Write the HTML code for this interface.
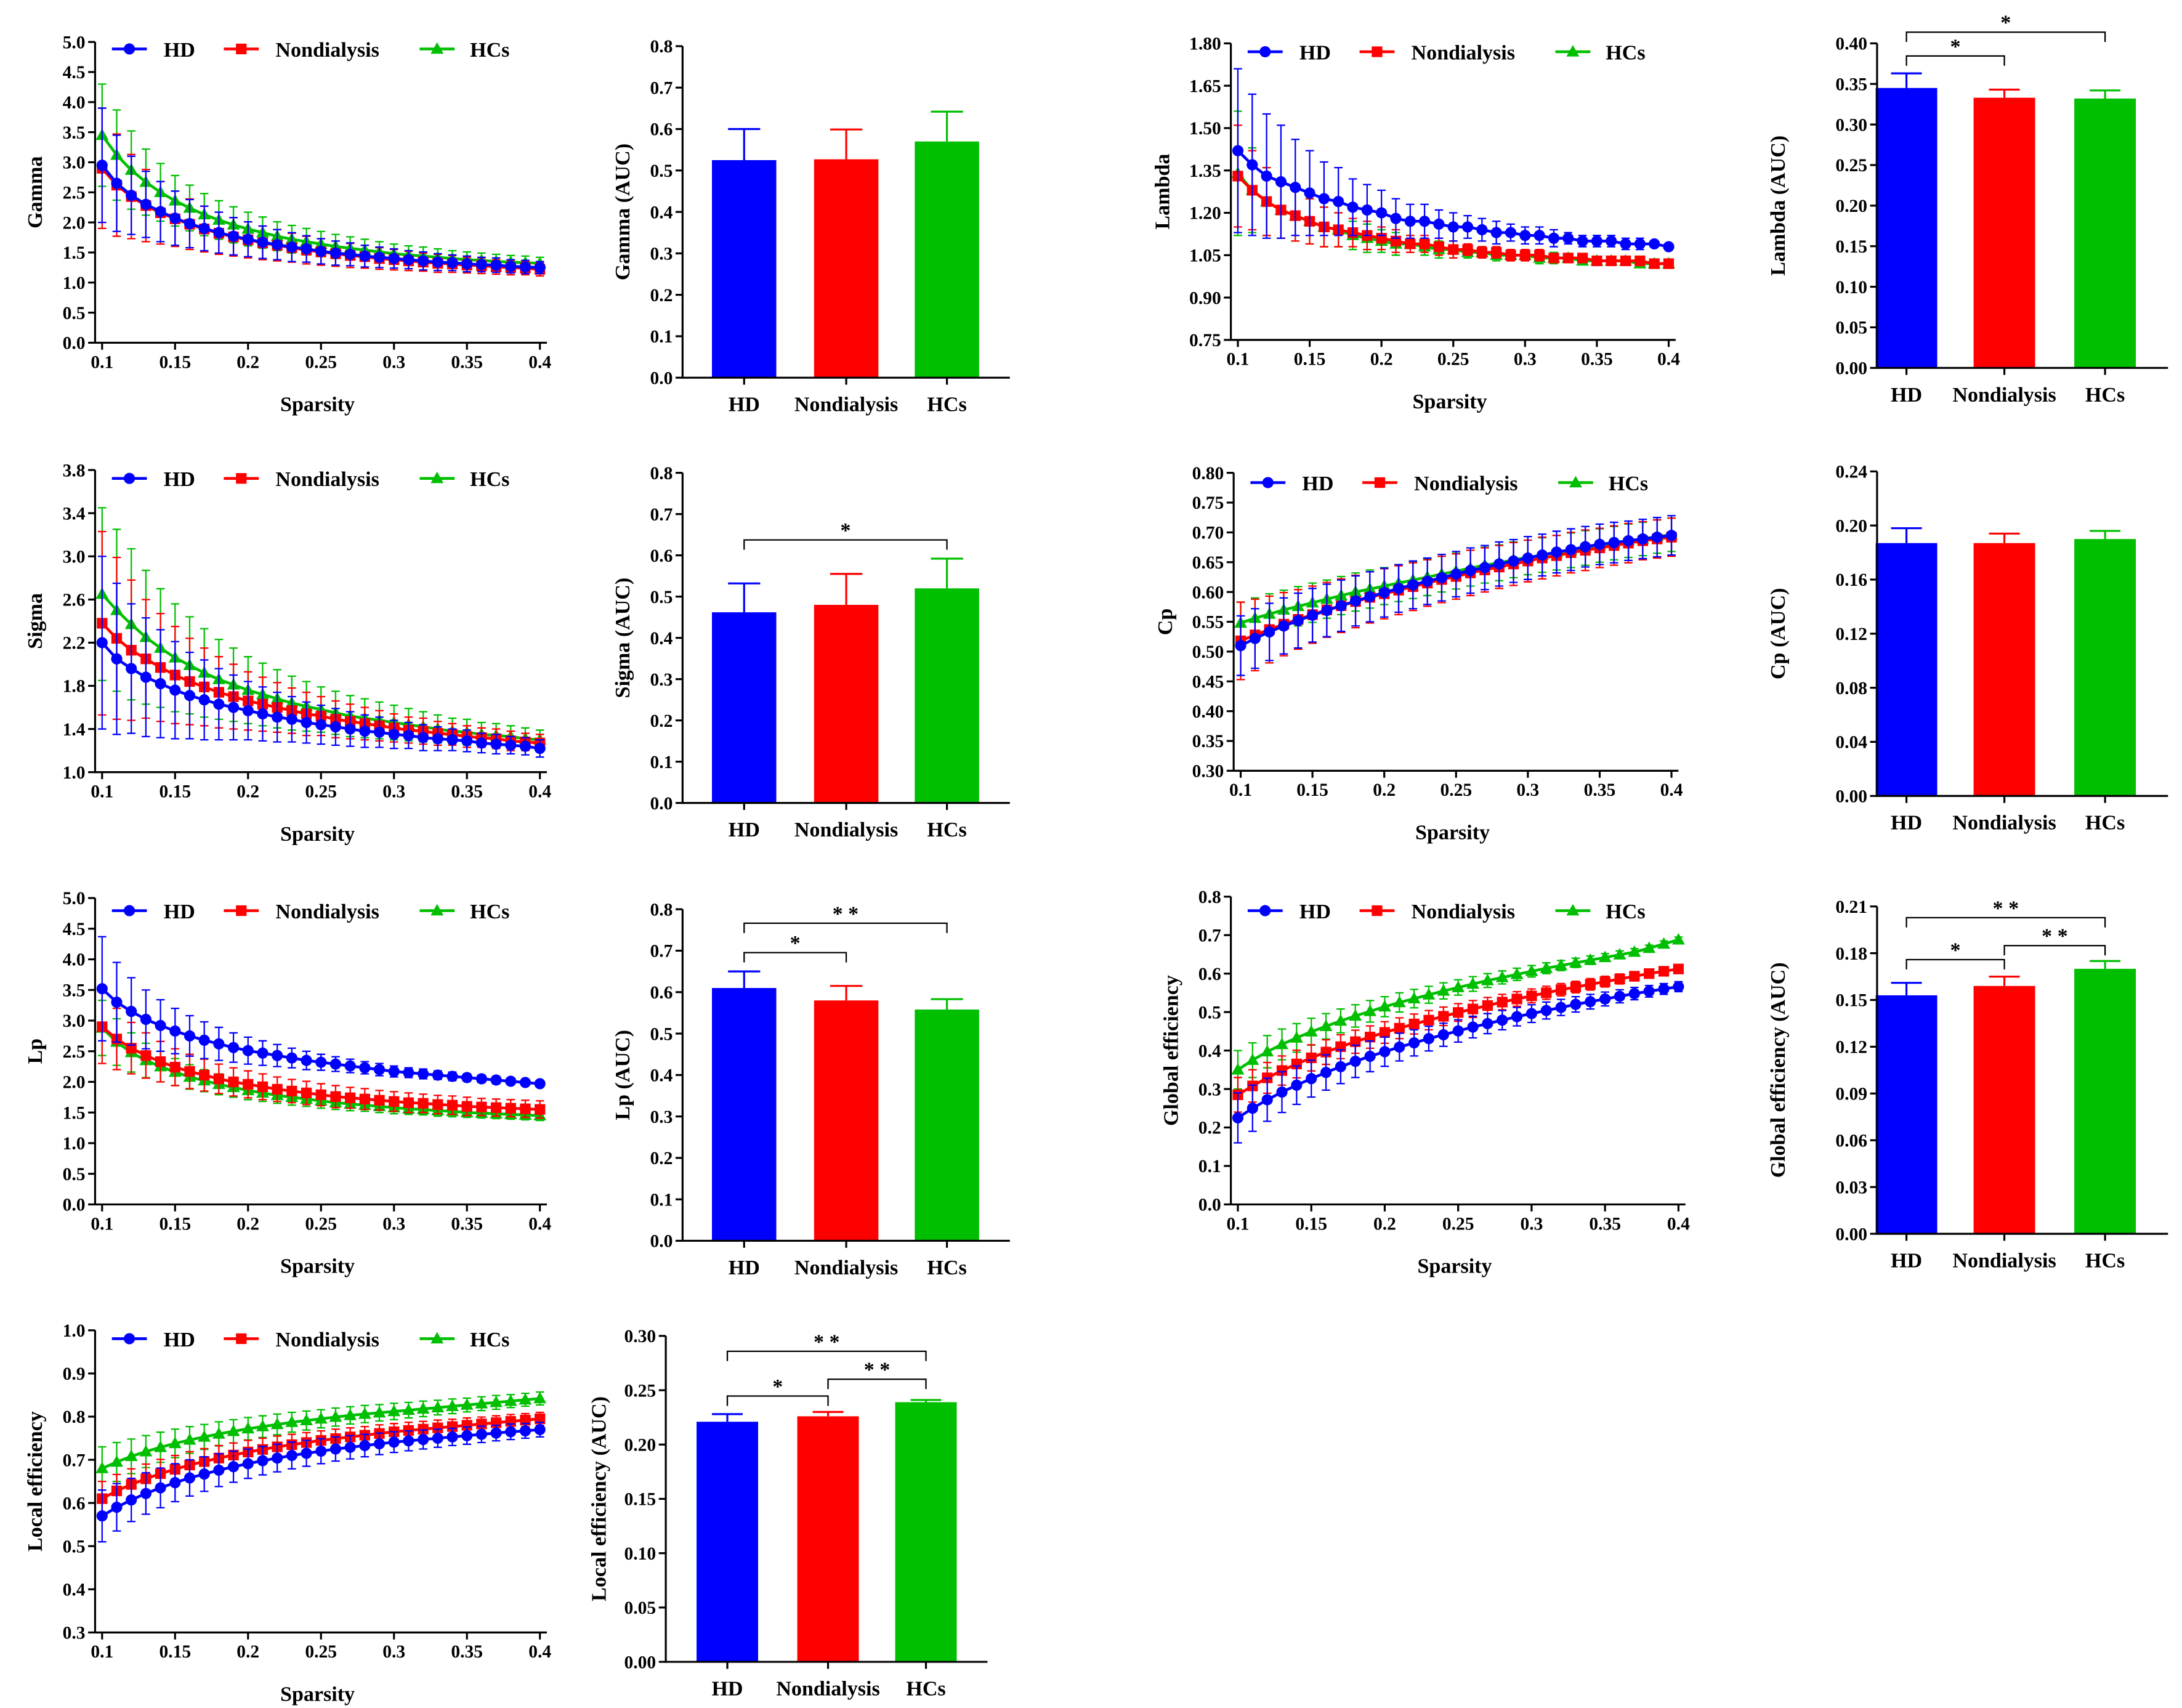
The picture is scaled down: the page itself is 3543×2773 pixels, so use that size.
<!DOCTYPE html>
<html><head><meta charset="utf-8"><style>
html,body{margin:0;padding:0;background:#fff;}
svg{display:block;}
text{font-family:"Liberation Serif",serif;font-weight:bold;fill:#000;}
</style></head>
<body>
<svg id="fig" width="3543" height="2773" viewBox="0 0 1560 1221" preserveAspectRatio="none" xmlns="http://www.w3.org/2000/svg"></svg>
<script>
const sparsity=[0.1,0.11,0.12,0.13,0.14,0.15,0.16,0.17,0.18,0.19,0.2,0.21,0.22,0.23,0.24,0.25,0.26,0.27,0.28,0.29,0.3,0.31,0.32,0.33,0.34,0.35,0.36,0.37,0.38,0.39,0.4];
const xTickVals=[0.1,0.15,0.2,0.25,0.3,0.35,0.4];
const xTickLabels=["0.1","0.15","0.2","0.25","0.3","0.35","0.4"];
const groups=["HD","Nondialysis","HCs"];

const gammaHD=[2.95,2.65,2.45,2.3,2.18,2.07,1.98,1.9,1.83,1.77,1.72,1.67,1.63,1.59,1.56,1.52,1.49,1.47,1.44,1.42,1.40,1.38,1.36,1.34,1.33,1.31,1.30,1.29,1.27,1.26,1.25];
const gammaNon=[2.9,2.62,2.43,2.28,2.16,2.06,1.97,1.89,1.82,1.76,1.71,1.66,1.62,1.58,1.54,1.51,1.48,1.45,1.43,1.40,1.38,1.36,1.34,1.32,1.31,1.29,1.28,1.26,1.25,1.24,1.22];
const gammaHC=[3.45,3.12,2.87,2.67,2.5,2.36,2.24,2.13,2.04,1.96,1.89,1.83,1.77,1.72,1.68,1.64,1.60,1.57,1.54,1.51,1.48,1.46,1.44,1.42,1.40,1.38,1.37,1.35,1.34,1.33,1.32];
const gammaSdHD=[0.95,0.8,0.65,0.55,0.5,0.45,0.4,0.37,0.34,0.31,0.29,0.27,0.25,0.24,0.22,0.21,0.2,0.19,0.18,0.17,0.16,0.15,0.15,0.14,0.13,0.13,0.12,0.12,0.11,0.11,0.1];
const gammaSdNon=[1.0,0.85,0.7,0.6,0.52,0.46,0.42,0.38,0.35,0.32,0.3,0.28,0.26,0.24,0.23,0.22,0.21,0.2,0.19,0.18,0.17,0.16,0.15,0.15,0.14,0.13,0.13,0.12,0.12,0.11,0.11];
const gammaSdHC=[0.85,0.75,0.65,0.55,0.48,0.42,0.38,0.35,0.32,0.3,0.28,0.26,0.24,0.23,0.22,0.21,0.2,0.19,0.18,0.17,0.16,0.15,0.15,0.14,0.13,0.13,0.12,0.12,0.11,0.11,0.1];

const lambdaHD=[1.42,1.37,1.33,1.31,1.29,1.27,1.25,1.24,1.22,1.21,1.20,1.18,1.17,1.17,1.16,1.15,1.15,1.14,1.13,1.13,1.12,1.12,1.11,1.11,1.10,1.10,1.10,1.09,1.09,1.09,1.08];
const lambdaNon=[1.33,1.28,1.24,1.21,1.19,1.17,1.15,1.14,1.13,1.12,1.11,1.10,1.09,1.09,1.08,1.07,1.07,1.06,1.06,1.05,1.05,1.05,1.04,1.04,1.04,1.03,1.03,1.03,1.03,1.02,1.02];
const lambdaHC=[1.34,1.28,1.24,1.21,1.19,1.17,1.15,1.14,1.12,1.11,1.10,1.09,1.09,1.08,1.07,1.07,1.06,1.06,1.05,1.05,1.05,1.04,1.04,1.04,1.03,1.03,1.03,1.03,1.02,1.02,1.02];
const lambdaSdHD=[0.29,0.25,0.22,0.2,0.17,0.15,0.13,0.12,0.1,0.09,0.08,0.07,0.06,0.06,0.05,0.05,0.04,0.04,0.04,0.03,0.03,0.03,0.03,0.02,0.02,0.02,0.02,0.02,0.02,0.01,0.01];
const lambdaSdNon=[0.18,0.14,0.12,0.1,0.09,0.08,0.07,0.06,0.05,0.05,0.04,0.04,0.03,0.03,0.03,0.03,0.02,0.02,0.02,0.02,0.02,0.02,0.01,0.01,0.01,0.01,0.01,0.01,0.01,0.01,0.01];
const lambdaSdHC=[0.22,0.15,0.12,0.1,0.09,0.08,0.07,0.06,0.05,0.05,0.04,0.04,0.03,0.03,0.03,0.03,0.02,0.02,0.02,0.02,0.02,0.02,0.02,0.01,0.01,0.01,0.01,0.01,0.01,0.01,0.01];

const sigmaHD=[2.2,2.05,1.96,1.88,1.82,1.76,1.71,1.67,1.63,1.6,1.57,1.54,1.51,1.49,1.46,1.44,1.42,1.4,1.38,1.37,1.35,1.34,1.32,1.31,1.3,1.29,1.27,1.26,1.25,1.24,1.22];
const sigmaNon=[2.38,2.24,2.13,2.05,1.97,1.9,1.84,1.79,1.74,1.7,1.66,1.63,1.6,1.57,1.54,1.52,1.49,1.47,1.45,1.43,1.41,1.39,1.38,1.36,1.35,1.33,1.32,1.31,1.29,1.28,1.27];
const sigmaHC=[2.65,2.5,2.37,2.25,2.15,2.06,1.99,1.92,1.86,1.81,1.76,1.72,1.68,1.64,1.61,1.58,1.55,1.52,1.5,1.48,1.46,1.44,1.42,1.4,1.38,1.37,1.35,1.34,1.33,1.31,1.3];
const sigmaSdHD=[0.8,0.7,0.6,0.55,0.5,0.45,0.4,0.37,0.33,0.3,0.27,0.25,0.23,0.21,0.19,0.18,0.17,0.16,0.15,0.14,0.13,0.12,0.12,0.11,0.1,0.1,0.09,0.09,0.08,0.08,0.08];
const sigmaSdNon=[0.85,0.75,0.65,0.55,0.5,0.45,0.4,0.36,0.33,0.3,0.27,0.25,0.23,0.21,0.2,0.18,0.17,0.16,0.15,0.14,0.13,0.12,0.12,0.11,0.1,0.1,0.09,0.09,0.09,0.08,0.08];
const sigmaSdHC=[0.8,0.75,0.7,0.62,0.55,0.5,0.45,0.41,0.37,0.34,0.31,0.29,0.27,0.25,0.23,0.21,0.2,0.19,0.18,0.17,0.16,0.15,0.14,0.13,0.12,0.12,0.11,0.11,0.1,0.1,0.09];

const cpHD=[0.51,0.522,0.533,0.543,0.552,0.561,0.569,0.577,0.585,0.592,0.599,0.606,0.612,0.618,0.624,0.63,0.636,0.641,0.647,0.652,0.657,0.662,0.667,0.671,0.676,0.68,0.683,0.686,0.689,0.692,0.695];
const cpNon=[0.518,0.528,0.537,0.546,0.554,0.562,0.57,0.577,0.584,0.591,0.597,0.603,0.609,0.615,0.621,0.626,0.632,0.637,0.642,0.647,0.652,0.657,0.661,0.666,0.67,0.674,0.678,0.682,0.686,0.689,0.692];
const cpHC=[0.548,0.556,0.563,0.57,0.576,0.582,0.588,0.594,0.6,0.605,0.61,0.615,0.62,0.625,0.63,0.635,0.64,0.645,0.649,0.654,0.658,0.662,0.666,0.67,0.674,0.678,0.682,0.686,0.689,0.693,0.696];
const cpSdHD=[0.05,0.05,0.048,0.047,0.046,0.045,0.044,0.043,0.042,0.042,0.041,0.04,0.04,0.039,0.039,0.038,0.038,0.037,0.037,0.036,0.036,0.035,0.035,0.035,0.034,0.034,0.034,0.033,0.033,0.033,0.033];
const cpSdNon=[0.065,0.06,0.056,0.053,0.05,0.048,0.046,0.045,0.044,0.043,0.042,0.041,0.04,0.039,0.039,0.038,0.038,0.037,0.036,0.036,0.035,0.035,0.034,0.034,0.034,0.033,0.033,0.033,0.032,0.032,0.032];
const cpSdHC=[0.035,0.034,0.034,0.033,0.033,0.033,0.032,0.032,0.032,0.032,0.031,0.031,0.031,0.031,0.03,0.03,0.03,0.03,0.03,0.03,0.029,0.029,0.029,0.029,0.029,0.028,0.028,0.028,0.028,0.028,0.028];

const lpHD=[3.52,3.3,3.15,3.02,2.92,2.83,2.75,2.68,2.62,2.56,2.51,2.47,2.43,2.39,2.35,2.32,2.29,2.26,2.23,2.2,2.17,2.15,2.13,2.11,2.09,2.07,2.05,2.03,2.01,1.99,1.97];
const lpNon=[2.9,2.7,2.55,2.43,2.33,2.24,2.17,2.11,2.05,2.0,1.96,1.92,1.88,1.85,1.82,1.79,1.76,1.74,1.72,1.7,1.68,1.66,1.65,1.63,1.62,1.6,1.59,1.58,1.57,1.56,1.55];
const lpHC=[2.88,2.65,2.48,2.35,2.25,2.16,2.08,2.02,1.96,1.91,1.86,1.82,1.78,1.75,1.72,1.69,1.66,1.64,1.62,1.6,1.58,1.56,1.55,1.53,1.52,1.5,1.49,1.48,1.47,1.46,1.45];
const lpSdHD=[0.85,0.65,0.55,0.48,0.42,0.37,0.33,0.3,0.27,0.24,0.22,0.2,0.18,0.16,0.15,0.13,0.12,0.11,0.1,0.1,0.09,0.08,0.08,0.07,0.07,0.06,0.06,0.06,0.05,0.05,0.05];
const lpSdNon=[0.6,0.5,0.42,0.37,0.33,0.3,0.28,0.26,0.24,0.23,0.22,0.21,0.2,0.19,0.19,0.18,0.18,0.17,0.17,0.16,0.16,0.16,0.15,0.15,0.15,0.15,0.14,0.14,0.14,0.14,0.14];
const lpSdHC=[0.45,0.38,0.32,0.28,0.25,0.22,0.2,0.18,0.17,0.16,0.15,0.14,0.13,0.13,0.12,0.12,0.11,0.11,0.1,0.1,0.1,0.09,0.09,0.09,0.09,0.08,0.08,0.08,0.08,0.08,0.08];

const geHD=[0.225,0.25,0.272,0.292,0.31,0.327,0.343,0.358,0.372,0.385,0.397,0.409,0.42,0.431,0.441,0.451,0.461,0.47,0.479,0.488,0.496,0.504,0.512,0.52,0.527,0.534,0.541,0.548,0.554,0.56,0.566];
const geNon=[0.285,0.308,0.329,0.348,0.365,0.381,0.396,0.41,0.423,0.435,0.447,0.458,0.469,0.479,0.489,0.499,0.508,0.517,0.526,0.534,0.542,0.55,0.558,0.565,0.572,0.579,0.586,0.593,0.6,0.606,0.612];
const geHC=[0.35,0.375,0.397,0.416,0.433,0.449,0.463,0.477,0.49,0.502,0.514,0.525,0.535,0.545,0.555,0.564,0.573,0.582,0.59,0.598,0.606,0.614,0.621,0.628,0.635,0.642,0.649,0.656,0.666,0.677,0.688];
const geSdHD=[0.065,0.06,0.056,0.053,0.05,0.048,0.046,0.044,0.042,0.04,0.038,0.036,0.034,0.032,0.03,0.029,0.028,0.026,0.025,0.024,0.023,0.022,0.021,0.02,0.019,0.018,0.017,0.016,0.015,0.014,0.013];
const geSdNon=[0.045,0.042,0.04,0.038,0.036,0.034,0.032,0.031,0.03,0.029,0.028,0.027,0.026,0.025,0.024,0.023,0.022,0.021,0.02,0.019,0.018,0.017,0.016,0.015,0.015,0.014,0.013,0.012,0.011,0.01,0.01];
const geSdHC=[0.05,0.045,0.042,0.04,0.037,0.035,0.033,0.031,0.029,0.028,0.026,0.025,0.024,0.022,0.021,0.02,0.019,0.018,0.017,0.016,0.015,0.014,0.013,0.012,0.011,0.01,0.01,0.009,0.008,0.008,0.007];

const leHD=[0.57,0.59,0.607,0.622,0.635,0.647,0.658,0.667,0.676,0.684,0.691,0.698,0.704,0.71,0.715,0.72,0.725,0.729,0.733,0.737,0.741,0.744,0.747,0.75,0.753,0.756,0.759,0.762,0.765,0.767,0.77];
const leNon=[0.61,0.628,0.643,0.656,0.668,0.678,0.688,0.696,0.704,0.711,0.718,0.724,0.73,0.735,0.74,0.745,0.749,0.753,0.757,0.761,0.765,0.768,0.771,0.774,0.777,0.78,0.783,0.786,0.789,0.792,0.795];
const leHC=[0.68,0.695,0.708,0.719,0.729,0.738,0.746,0.753,0.76,0.766,0.772,0.777,0.782,0.787,0.791,0.795,0.799,0.803,0.806,0.809,0.812,0.815,0.818,0.821,0.824,0.827,0.83,0.833,0.836,0.839,0.842];
const leSdHD=[0.06,0.055,0.05,0.048,0.046,0.044,0.042,0.04,0.038,0.036,0.034,0.033,0.032,0.031,0.03,0.029,0.028,0.027,0.026,0.025,0.024,0.023,0.022,0.021,0.02,0.02,0.019,0.018,0.018,0.017,0.017];
const leSdNon=[0.04,0.038,0.036,0.034,0.033,0.032,0.031,0.03,0.029,0.028,0.027,0.026,0.025,0.024,0.023,0.022,0.022,0.021,0.02,0.02,0.019,0.019,0.018,0.018,0.017,0.017,0.016,0.016,0.016,0.015,0.015];
const leSdHC=[0.05,0.045,0.04,0.037,0.035,0.033,0.031,0.029,0.028,0.027,0.026,0.025,0.024,0.023,0.022,0.021,0.021,0.02,0.02,0.019,0.019,0.018,0.018,0.017,0.017,0.016,0.016,0.016,0.015,0.015,0.015];

const gammaAuc=[0.525,0.527,0.57], gammaAucSd=[0.075,0.072,0.072];
const lambdaAuc=[0.345,0.333,0.332], lambdaAucSd=[0.018,0.01,0.01];
const sigmaAuc=[0.462,0.48,0.52], sigmaAucSd=[0.07,0.075,0.072];
const cpAuc=[0.187,0.187,0.19], cpAucSd=[0.011,0.007,0.006];
const lpAuc=[0.61,0.58,0.558], lpAucSd=[0.04,0.035,0.025];
const geAuc=[0.153,0.159,0.17], geAucSd=[0.008,0.006,0.005];
const leAuc=[0.221,0.226,0.239], leAucSd=[0.007,0.004,0.002];

const COLORS=["#0000ff","#ff0000","#00bf00"];
const NS="http://www.w3.org/2000/svg";
const svg=document.getElementById("fig");
function el(tag,attrs,parent,txt){const e=document.createElementNS(NS,tag);for(const k in attrs)e.setAttribute(k,attrs[k]);if(txt!==undefined)e.textContent=txt;(parent||svg).appendChild(e);return e;}
function marker(g,kind,x,y,c){
  let m;
  if(kind===0){m=el("circle",{cx:x,cy:y,r:4,fill:c},g);}
  else if(kind===1){m=el("rect",{x:x-3.8,y:y-3.8,width:7.6,height:7.6,fill:c},g);}
  else{m=el("polygon",{points:`${x},${y-4.8} ${x-4.6},${y+3.4} ${x+4.6},${y+3.4}`,fill:c},g);}
  return m;
}
function fmt(v,d){return v.toFixed(d);}

function lineChart(o){
  const g=el("g",{});
  
  
  const sx=v=>o.xa+(v-0.1)/(0.3)*(o.xb-o.xa);
  const sy=v=>o.y0+(v-o.ymin)/(o.ymax-o.ymin)*(o.y1-o.y0);
  // series
  const order=[2,1,0];
  for(const k of order){
    const mean=o.means[k], sd=o.sds[k], c=COLORS[k];
    const sg=el("g",{},g);
    
    
    for(let i=0;i<sparsity.length;i++){
      const x=sx(sparsity[i]),yt=sy(mean[i]+sd[i]),yb=sy(Math.max(o.ymin,mean[i]-sd[i]));
      const eb=el("path",{d:`M${x},${yt}V${yb}M${x-3},${yt}H${x+3}M${x-3},${sy(mean[i]-sd[i])}H${x+3}`,stroke:c,"stroke-width":1,fill:"none"},sg);
      
      
    }
    const pts=sparsity.map((s,i)=>sx(s)+","+sy(mean[i])).join(" ");
    const pl=el("polyline",{points:pts,stroke:c,"stroke-width":2,fill:"none"},sg);
    
    
    for(let i=0;i<sparsity.length;i++){
      const m=marker(sg,k,sx(sparsity[i]),sy(mean[i]),c);
      
      
    }
  }
  // axes
  const ya=el("line",{x1:o.ax,y1:o.y0+0.7,x2:o.ax,y2:o.y1,stroke:"#000","stroke-width":1.4},g);
  
  
  const xa=el("line",{x1:o.ax,y1:o.y0,x2:o.xb+5,y2:o.y0,stroke:"#000","stroke-width":1.4},g);
  
  
  for(let v=o.ymin,i=0;v<=o.ymax+1e-9;i++,v=o.ymin+i*o.step){
    const y=sy(v);
    el("line",{x1:o.ax-5,y1:y,x2:o.ax,y2:y,stroke:"#000","stroke-width":1.4},g);
    const t=el("text",{x:o.ax-7,y:y+4.5,"font-size":13,"text-anchor":"end"},g,fmt(v,o.dec));
    
    
  }
  xTickVals.forEach((v,i)=>{
    const x=sx(v);
    el("line",{x1:x,y1:o.y0,x2:x,y2:o.y0+5,stroke:"#000","stroke-width":1.4},g);
    const t=el("text",{x:x,y:o.y0+18,"font-size":13,"text-anchor":"middle"},g,xTickLabels[i]);
    
    
  });
  const xt=el("text",{x:(o.ax+o.xb)/2,y:o.y0+49,"font-size":15,"text-anchor":"middle"},g,"Sparsity");
  
  
  const yt=el("text",{x:0,y:0,"font-size":15,"text-anchor":"middle",transform:`translate(${o.tx},${(o.y0+o.y1)/2}) rotate(-90)`},g,o.title);
  
  
  // legend
  const lo=[[12,49],[92,129],[232,268]];
  groups.forEach((gname,k)=>{
    const lg=el("g",{},g);
    
    
    const x0=o.ax+lo[k][0];
    el("line",{x1:x0,y1:o.ly,x2:x0+25,y2:o.ly,stroke:COLORS[k],"stroke-width":2},lg);
    marker(lg,k,x0+12.5,o.ly,COLORS[k]);
    el("text",{x:o.ax+lo[k][1],y:o.ly+5.5,"font-size":15},lg,gname);
  });
}

function barChart(o){
  const g=el("g",{});
  
  
  const sy=v=>o.y0+v/o.ymax*(o.y1-o.y0);
  o.vals.forEach((v,k)=>{
    const cx=o.cx[k],w=o.w,c=COLORS[k];
    const top=sy(v+o.sds[k]);
    const eb=el("path",{d:`M${cx},${sy(v)}V${top}M${cx-w/4},${top}H${cx+w/4}`,stroke:c,"stroke-width":1.4,fill:"none"},g);
    
    
    const r=el("rect",{x:cx-w/2,y:sy(v),width:w,height:o.y0-sy(v),fill:c},g);
    
    
    el("line",{x1:cx,y1:o.y0,x2:cx,y2:o.y0+5,stroke:"#000","stroke-width":1.4},g);
    const t=el("text",{x:cx,y:o.y0+24,"font-size":15,"text-anchor":"middle"},g,groups[k]);
    
    
  });
  const ya=el("line",{x1:o.ax,y1:o.y0+0.7,x2:o.ax,y2:o.y1,stroke:"#000","stroke-width":1.4},g);
  
  
  const xa=el("line",{x1:o.ax,y1:o.y0,x2:o.xend,y2:o.y0,stroke:"#000","stroke-width":1.4},g);
  
  
  for(let i=0;i*o.step<=o.ymax+1e-9;i++){
    const v=i*o.step,y=sy(v);
    el("line",{x1:o.ax-5,y1:y,x2:o.ax,y2:y,stroke:"#000","stroke-width":1.4},g);
    const t=el("text",{x:o.ax-7,y:y+4.5,"font-size":13,"text-anchor":"end"},g,fmt(v,o.dec));
    
    
  }
  const yt=el("text",{x:0,y:0,"font-size":15,"text-anchor":"middle",transform:`translate(${o.tx},${(o.y0+o.y1)/2}) rotate(-90)`},g,o.title);
  
  
  (o.br||[]).forEach(b=>{
    const x1=o.cx[b[0]],x2=o.cx[b[1]],y=b[2];
    const p=el("path",{d:`M${x1},${y+7}V${y}H${x2}V${y+7}`,stroke:"#000","stroke-width":1,fill:"none"},g);
    
    
    const t=el("text",{x:(x1+x2)/2,y:y-2,"font-size":15,"text-anchor":"middle"},g,b[3]);
    
    
  });
}

const C1=[532,605,677], C2=[1363,1433,1505];
lineChart({name:"gamma",ax:68,xa:73,xb:386,y0:245,y1:30,ymin:0,ymax:5,step:0.5,dec:1,title:"Gamma",tx:30,ly:35,means:[gammaHD,gammaNon,gammaHC],sds:[gammaSdHD,gammaSdNon,gammaSdHC]});
barChart({name:"gamma",ax:488,xend:722,y0:270,y1:33,ymax:0.8,step:0.1,dec:1,cx:C1,w:46,title:"Gamma (AUC)",tx:450,vals:gammaAuc,sds:gammaAucSd});
lineChart({name:"lambda",ax:880,xa:885,xb:1193,y0:243,y1:31,ymin:0.75,ymax:1.8,step:0.15,dec:2,title:"Lambda",tx:836,ly:37,means:[lambdaHD,lambdaNon,lambdaHC],sds:[lambdaSdHD,lambdaSdNon,lambdaSdHC]});
barChart({name:"lambda",ax:1342,xend:1550,y0:263,y1:31,ymax:0.4,step:0.05,dec:2,cx:C2,w:44,title:"Lambda (AUC)",tx:1276,vals:lambdaAuc,sds:lambdaAucSd,br:[[0,1,40,"*"],[0,2,23,"*"]]});

lineChart({name:"sigma",ax:68,xa:73,xb:386,y0:552,y1:336,ymin:1.0,ymax:3.8,step:0.4,dec:1,title:"Sigma",tx:30,ly:342,means:[sigmaHD,sigmaNon,sigmaHC],sds:[sigmaSdHD,sigmaSdNon,sigmaSdHC]});
barChart({name:"sigma",ax:488,xend:722,y0:574,y1:338,ymax:0.8,step:0.1,dec:1,cx:C1,w:46,title:"Sigma (AUC)",tx:450,vals:sigmaAuc,sds:sigmaAucSd,br:[[0,2,386,"*"]]});
lineChart({name:"cp",ax:882,xa:887,xb:1195,y0:551,y1:338,ymin:0.3,ymax:0.8,step:0.05,dec:2,title:"Cp",tx:838,ly:345,means:[cpHD,cpNon,cpHC],sds:[cpSdHD,cpSdNon,cpSdHC]});
barChart({name:"cp",ax:1342,xend:1550,y0:569,y1:337,ymax:0.24,step:0.04,dec:2,cx:C2,w:44,title:"Cp (AUC)",tx:1276,vals:cpAuc,sds:cpAucSd});

lineChart({name:"lp",ax:68,xa:73,xb:386,y0:861,y1:642,ymin:0,ymax:5,step:0.5,dec:1,title:"Lp",tx:30,ly:651,means:[lpHD,lpNon,lpHC],sds:[lpSdHD,lpSdNon,lpSdHC]});
barChart({name:"lp",ax:488,xend:722,y0:887,y1:650,ymax:0.8,step:0.1,dec:1,cx:C1,w:46,title:"Lp (AUC)",tx:450,vals:lpAuc,sds:lpAucSd,br:[[0,1,681,"*"],[0,2,660,"* *"]]});
lineChart({name:"global-efficiency",ax:880,xa:885,xb:1200,y0:861,y1:641,ymin:0,ymax:0.8,step:0.1,dec:1,title:"Global efficiency",tx:842,ly:651,means:[geHD,geNon,geHC],sds:[geSdHD,geSdNon,geSdHC]});
barChart({name:"global-efficiency",ax:1342,xend:1550,y0:882,y1:648,ymax:0.21,step:0.03,dec:2,cx:C2,w:44,title:"Global efficiency (AUC)",tx:1276,vals:geAuc,sds:geAucSd,br:[[0,1,686,"*"],[0,2,656,"* *"],[1,2,676,"* *"]]});

lineChart({name:"local-efficiency",ax:68,xa:73,xb:386,y0:1167,y1:951,ymin:0.3,ymax:1.0,step:0.1,dec:1,title:"Local efficiency",tx:30,ly:957,means:[leHD,leNon,leHC],sds:[leSdHD,leSdNon,leSdHC]});
barChart({name:"local-efficiency",ax:476,xend:706,y0:1188,y1:955,ymax:0.3,step:0.05,dec:2,cx:[520,592,662],w:44,title:"Local efficiency (AUC)",tx:433,vals:leAuc,sds:leAucSd,br:[[0,1,998,"*"],[0,2,966,"* *"],[1,2,986,"* *"]]});
</script>
</body></html>
